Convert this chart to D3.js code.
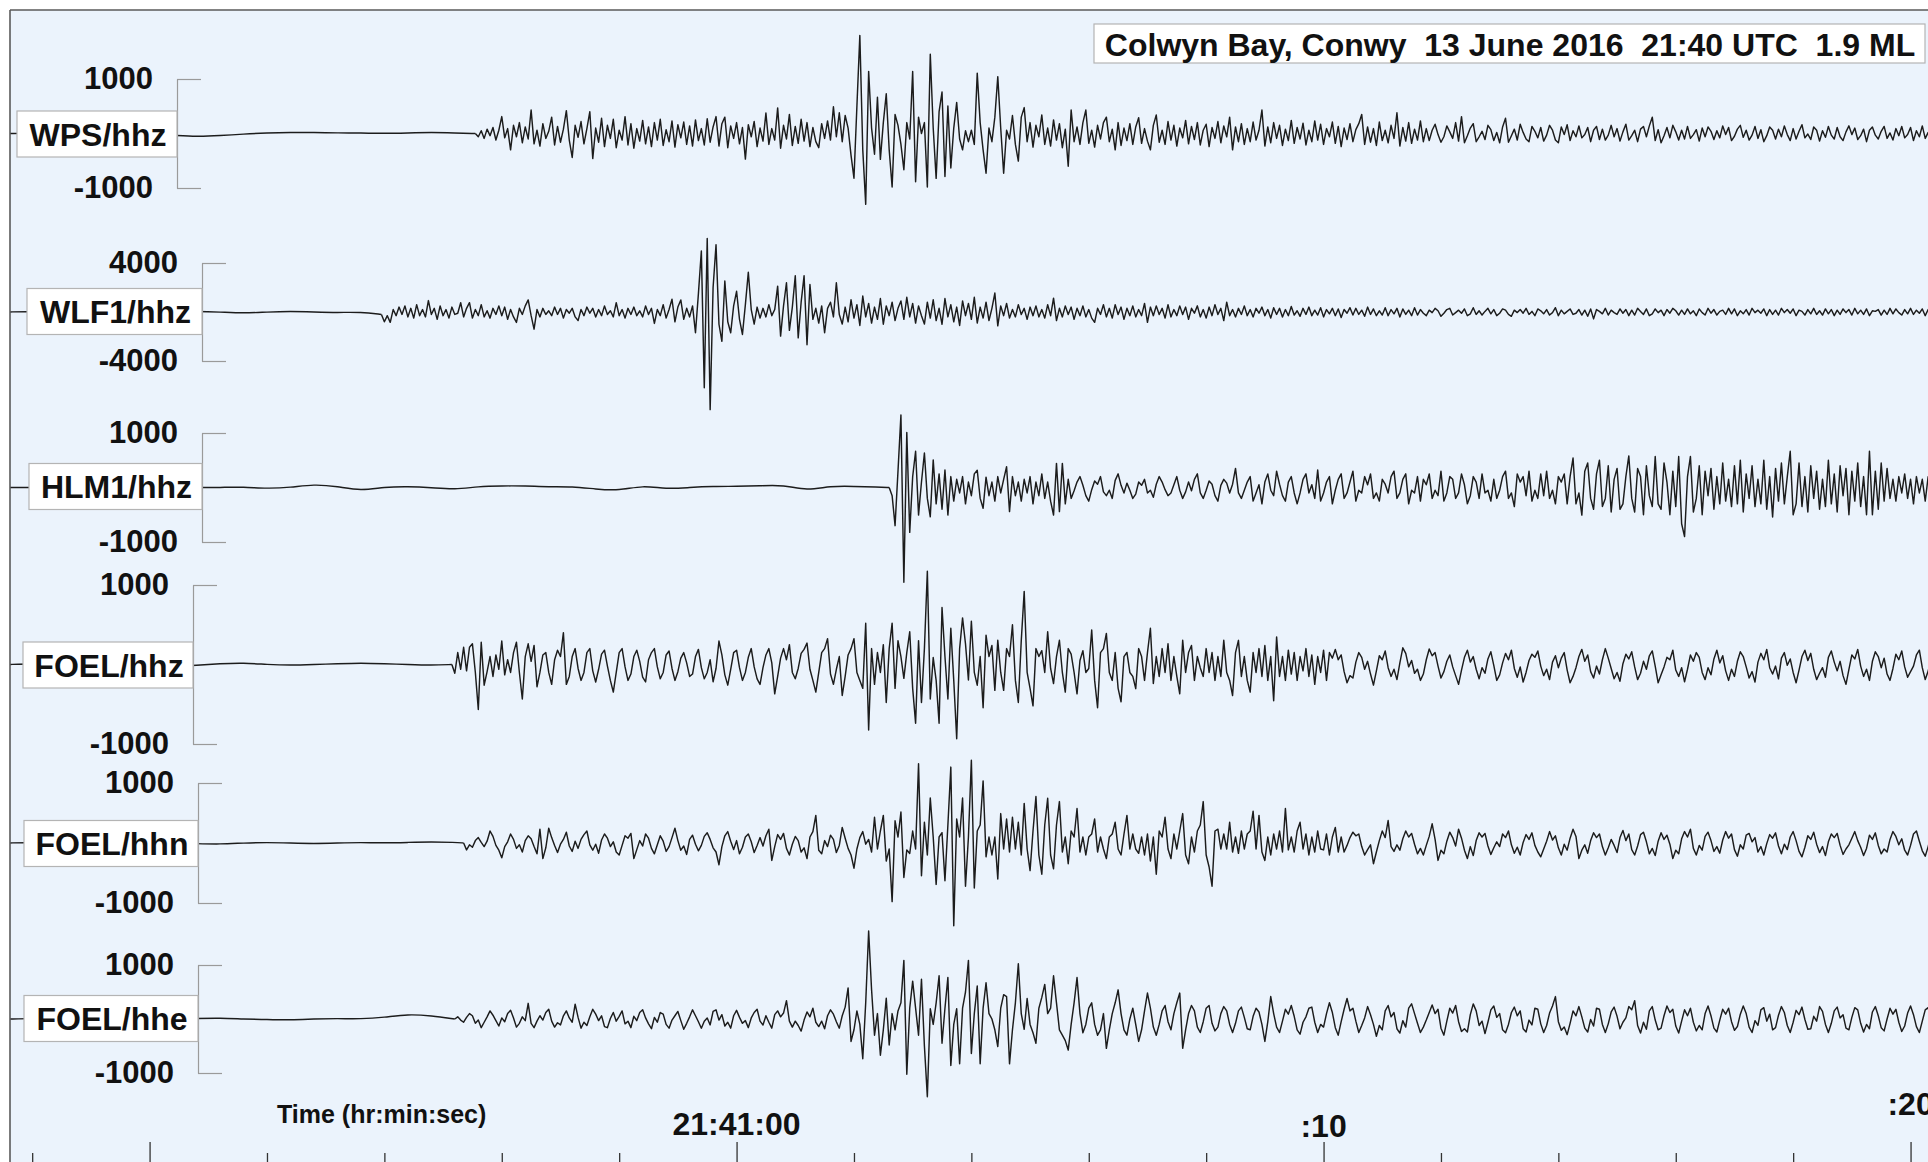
<!DOCTYPE html>
<html>
<head>
<meta charset="utf-8">
<script src="https://cdn.jsdelivr.net/npm/d3@7"></script>
<style>
  html, body { margin: 0; padding: 0; background: #ffffff; overflow: hidden; }
  svg { display: block; font-family: "Liberation Sans", Arial, Helvetica, sans-serif; font-weight: bold; }
</style>
</head>
<body>
<svg id="chart" width="1928" height="1162"></svg>
<script>
// ---------------------------------------------------------------------------
// Seismograms, Colwyn Bay event. Times are seconds after 21:41:00 UTC,
// amplitudes are counts.
// ---------------------------------------------------------------------------
const title = "Colwyn Bay, Conwy  13 June 2016  21:40 UTC  1.9 ML";
const timeAxisTitle = "Time (hr:min:sec)";
const stations = ["WPS/hhz", "WLF1/hhz", "HLM1/hhz", "FOEL/hhz", "FOEL/hhn", "FOEL/hhe"];
const amplitudeTicks = [1000, 4000, 1000, 1000, 1000, 1000];
// where the coarse background record ends and the fine record begins
const onsets = [-4.45, -6.05, 2.60, -4.85, -4.65, -4.80];
const timeTickLabels = [
  { sec: 0, text: "21:41:00" },
  { sec: 10, text: ":10" },
  { sec: 20, text: ":20" }
];
const PRE_START = -12.4;   // first background sample
const PRE_STEP = 0.4;      // background sample spacing (s)
const WAVE_STEP = 0.05;    // record sample spacing (s)
const VIEW_START = -12.4, VIEW_END = 20.35;

// WPS/hhz
const wpsPre = [0,5,-5,0,10,0,-10,-30,-60,-40,-10,10,20,20,10,10,0,10,20,10];
const wpsWave = [
0,-60,50,-90,80,-40,110,-120,60,310,-80,90,-300,150,-60,200,-170,120,-100,430,
-190,60,-230,180,-90,40,300,-210,130,-160,80,420,-120,-440,150,-70,220,-190,90,400,
-460,100,-160,280,-240,150,-90,260,-260,60,-120,310,-210,180,-270,90,-140,240,-190,120,
-240,200,-120,260,-220,70,-150,230,-250,160,-80,210,-200,140,-230,250,-130,90,-210,270,
-160,120,310,-230,180,300,-260,140,-90,200,-190,110,-470,160,-60,220,-240,100,-140,375,
-200,90,-120,470,-270,150,-100,350,-220,130,-180,260,-140,200,-240,110,-150,-260,180,-90,
230,-120,490,-60,380,-150,330,
100,-400,-820,500,1800,-300,-1300,1140,100,-380,665,-475,200,728,-300,-981,348,150,-200,
-665,200,-100,1139,-886,300,0,200,-981,1456,100,-823,400,760,-790,506,-633,100,570,-100,
-300,50,-150,60,-200,1108,200,-300,-728,100,-150,300,1044,100,-728,60,-100,330,-200,-506,300,475,
-150,200,-250,150,-60,340,-200,100,-230,250,-120,180,-260,80,-600,430,-150,120,-200,200,430,-180,60,
-250,150,-100,200,300,-150,80,-300,200,-220,100,-130,180,-200,120,290,-180,90,-140,-300,
150,340,-160,60,-200,220,-120,150,-230,100,-80,240,-190,130,-110,200,-210,60,170,-240,
110,-90,220,-170,140,-60,300,-300,120,-150,
180,-200,90,-150,210,-120,60,430,-230,120,-170,200,-90,150,-220,80,-130,240,-180,110,
-100,190,-210,60,-150,230,-120,170,-200,90,-60,210,-180,130,-240,100,-110,180,-150,70,
180,350,-200,120,-160,90,-220,210,-130,60,-170,150,-90,380,-230,110,-140,200,-180,80,-120,230,-150,
90,-130,60,170,-20,-160,-60,140,30,-90,200,-140,310,-170,-40,100,180,-150,-60,40,
-110,150,70,-130,20,-170,120,280,-160,-40,80,-120,170,20,-100,-150,130,40,-80,110,
-140,-30,150,60,-120,-170,120,-20,160,-130,50,-60,140,-80,-20,110,-150,60,130,-110,
80,-120,-30,150,-60,90,-140,30,170,-120,-40,60,-150,80,130,-60,140,300,-130,70,
-170,-40,110,-80,150,30,-120,60,-100,130,-90,-20,70,-140,100,-60,120,40,-110,50,
-80,140,-20,110,-130,-50,80,150,-70,60,-120,-30,130,-90,70,-150,-40,120,60,-100,
80,-60,140,-20,-130,90,-100,40,160,-80,-10,-110,120,60,-140,50,-70,130,-30,-100,
110,-60,-130,30,140,-20,100,-110,-40,80,-150,60,120,-30,-100,40,130,-90,10,-120,
90,-40,130,-80,-20,110,-130,50,-60,140,-90,20,-110
];

// WLF1/hhz
const wlfPre = [0,50,-50,0,100,0,-50,0,50,0,-100,0,50,0,-50,0];
const wlfWave = [
-200,-800,-300,-845,200,-300,400,-200,500,-400,300,-500,600,-300,200,-400,930,-200,300,-600,
500,-300,200,-500,400,-200,-100,760,-400,300,760,-500,200,-300,600,-400,100,-500,300,-200,
500,-300,400,-600,200,-400,-850,300,-200,500,985,-300,-1400,200,-400,300,-200,100,-300,400,
-200,300,-500,200,-100,300,-400,-700,200,-300,400,-100,300,-400,200,-300,500,-200,100,-400,
760,-300,200,-500,300,-200,400,-300,100,-400,500,-200,300,-930,200,-300,600,-500,200,1040,
-800,400,985,-600,300,-400,500,
-1690,1500,4980,-6190,5995,-7970,2000,5490,-1000,-2390,2530,-800,-1690,500,1690,-600,-1830,600,3240,200,-985,400,-500,300,
-400,600,-300,200,2110,-1970,500,2390,-1500,400,2955,-2110,800,2955,-2670,2250,-600,300,-900,500,-1690,300,800,-400,2390,-200,-985,400,
-800,1000,-500,600,-1100,1300,-400,700,-900,400,-600,1100,-1000,500,-300,800,-700,300,
900,-600,1200,-400,700,-900,500,-300,-985,800,-500,1000,-700,300,-1000,1100,-400,600,-800,400,
-1100,900,-300,700,-600,1200,-900,400,-500,800,-700,300,1550,-1130,
500,-300,700,-500,200,-400,600,-200,300,-600,400,-300,500,-400,200,-500,600,-300,1130,-700,
300,-400,500,-200,400,-600,300,-300,500,-400,200,-500,-845,300,-200,600,-400,
300,-500,600,-200,400,-600,300,-300,500,-400,200,-300,700,-845,400,-300,500,-200,300,-500,
600,-400,200,-300,500,-200,400,-600,300,-100,500,-400,200,-500,400,-300,600,-200,300,-700,
800,-300,200,
-400,300,-200,500,-300,200,-400,300,-100,400,-300,200,-500,350,-200,300,-400,200,-300,450,
-250,100,-350,300,-200,400,-300,150,-250,350,-400,200,-150,300,-300,250,-450,200,-100,350,
-250,300,-200,150,-350,400,-200,250,-300,100,-250,350,-300,200,-150,300,-400,250,-200,150,
-300,350,
-250,200,-100,-300,150,-50,300,100,-350,-100,200,300,-250,-50,150,-100,250,-300,-150,350,
-200,100,-250,50,300,-150,200,-300,-100,250,150,-200,-350,150,-50,200,-100,300,-200,50,
-300,250,100,-150,200,-250,-50,350,-300,150,-150,50,250,-200,-100,200,-250,150,-350,250,
-563,200,50,-150,300,-250,150,-50,-200,250,-100,200,-300,150,-250,300,50,-200,250,-300,
-150,250,-50,150,-300,200,-100,300,100,-250,150,-200,250,-150,100,-300,250,-50,-250,300,
-100,200,-250,50,150,-200,300,-150,250,-300,100,-150,200,-250,300,-50,150,-100,250,-300,
200,-200,150,-250,300,-50,200,-100,250,-300,150,50,-250,200,-150,300,-200,100,-250,250,
-150,200,-300,150,-200,250,-50,200,-250,300,-150,150,-200,250,-300,100,50,200,-250,150,
-200,300,-150,250,-50,-250,200,-150,300,-200,150,-100,250,-300,200,-150,100
];

// HLM1/hhz
const hlmPre = [0,0,10,0,0,10,0,10,0,0,10,-20,0,60,20,-60,10,20,0,-40,
20,30,30,10,20,-30,-60,40,-30,0,20,20,30,50,-60,30,20,10];
const hlmWave = [
0,-150,
-700,300,1330,-1740,1010,-823,200,665,-506,100,633,-200,-538,506,-300,250,-400,320,-506,200,
-250,150,-100,200,-300,100,-150,250,316,-200,-380,190,-150,100,-250,200,-100,150,380,-443,
200,-150,100,-250,150,-100,200,-300,100,-150,250,-200,100,-250,-506,443,-443,443,-300,150,
-200,-60,100,200,40,-150,-250,-40,120,60,200,-80,-150,-50,-200,130,250,40,-100,80,
-50,-200,-120,100,40,150,-100,-50,-180,60,200,100,-40,-150,-100,50,200,-50,-200,-80,
100,-60,150,250,-100,-200,-50,120,60,-150,-250,40,150,80,-100,60,350,-100,-200,-50,
100,200,-250,-100,50,-300,100,250,-50,-150,300,60,-150,-250,100,200,-100,-300,-100,150,
250,-100,50,-200,320,-250,-100,100,200,-300,-50,150,250,-200,-100,100,300,-250,-50,-100,
200,50,250,-200,-100,-250,150,60,-100,200,300,-200,-100,150,250,-300,-50,-100,200,-250,
150,50,250,-200,-50,-150,300,-250,-100,200,150,-200,-100,250,50,-300,-150,200,100,-200,
250,-100,-50,-250,150,-200,-50,200,300,-200,-100,-350,250,100,200,-150,300,-250,-50,-200,
250,-150,300,-200,-50,-300,200,100,250,-300,
200,540,-300,-100,-506,300,450,-200,-400,250,500,-350,-200,400,-450,150,350,-400,-300,200,
580,-200,-450,350,200,-500,400,-150,-350,570,-300,-400,450,100,-500,300,-350,570,-665,-900,
200,570,-450,-200,400,-500,300,-150,350,-400,200,-300,450,-250,150,-350,400,-300,500,-450,
250,-200,400,-350,150,-300,500,-400,200,-540,350,-250,450,-300,200,665,-500,-300,450,-350,
200,-450,400,-200,300,-400,150,-350,500,-300,250,-450,400,-150,350,-500,300,-250,450,-350,
200,-500,665,-500,300,-400,450,-250,350,
-200,150,-250,200,-100,250,-200,150,-300,200,-100,150,-250,200,-150
];

// FOEL/hhz
const hhzPre = [0,10,0,-10,20,10,0,-20,-10,10,20,0,-10,0,10,20,10,0,-10];
const hhzWave = [
0,-110,150,-60,217,-80,217,260,-100,-565,280,-260,-90,100,-150,120,-60,295,-130,60,
-100,150,280,-100,-434,100,260,40,240,-280,-100,120,150,-100,-250,60,180,100,400,-250,
-150,100,200,-50,-200,-100,150,200,-80,-220,-60,130,180,-20,-200,-347,-100,150,200,-30,
-200,-120,100,180,40,-160,-220,60,150,200,-30,-180,-100,120,170,-50,-200,-90,80,150,
20,-150,-120,100,190,-40,-180,-100,60,-217,-50,295,120,-130,-260,-60,150,180,-40,-200,
-100,90,200,-30,-180,-250,-40,120,200,20,-369,-150,80,200,60,250,-100,-180,-50,140,
190,270,-60,-200,-347,-100,150,200,325,-120,-250,-60,100,-390,-150,120,200,325,-100,-200,
-300,520,-825,200,-250,150,-100,250,-477,200,520,-300,300,100,-174,150,412,-300,-738,300,
-477,200,1172,-434,87,-200,-738,716,100,-434,456,-200,-933,200,586,260,-195,543,-100,-260,
100,-543,369,100,239,-325,304,-100,-325,200,100,500,-200,-477,300,920,-100,-300,-520,200,
100,174,-100,412,-50,-239,100,304,-100,-347,200,130,-100,-369,50,174,-100,-50,434,-200,
-543,150,200,390,-100,-200,150,-300,-469,100,152,-100,-150,-304,200,100,-200,150,456,-239,
100,-150,200,-100,260,-200,100,-150,-369,304,-100,150,239,-200,100,-43,-150,200,-100,150,
-200,100,-150,304,-100,-200,-390,150,304,-150,100,-200,-347,150,-100,200,-150,239,-200,100,
-456,347,-150,100,-200,180,-120,150,-200,100,-80,200,-150,120,-250,100,-100,180,-200,150,
80,190,60,120,-90,-230,-140,-170,30,150,90,-60,40,-120,-260,-80,110,60,170,-40,
-150,-60,-190,20,210,140,-30,50,-110,-60,-200,-120,60,195,110,150,-20,-170,-90,40,
120,-30,-140,-250,-70,90,180,30,100,-60,-180,-40,-110,70,160,-10,-200,-130,20,140,
60,180,-50,-160,-30,-220,-100,50,130,90,170,-20,-140,-60,-190,30,110,-40,80,150,
-70,-230,-150,-40,100,190,40,120,-90,-170,-20,-120,60,200,80,-50,-180,-100,-210,10,
130,70,160,-30,-190,-110,40,-60,110,170,-20,-230,-130,-30,90,60,180,-70,-150,-40,
-217,-60,120,40,150,90,-100,-190,-40,-130,70,180,20,110,-80,-200,-60,-150,40,160,
100,-30,-170,-90,-220,30,140,60,190,-40,-120,-20,-180,80,150,-10,70,-100,-230,-70,
100,180,50,140,-60,-190,-110,-40,-160,90,170,30,-80,40,-140,-250,-60,120,70,190,
-20,-150,-60,-200,40,160,100,-40,80,-120,-200,-50,130,60,170,-30,-160,-90,-20,120,
180,-40,-190,-80,60
];

// FOEL/hhn
const hhnPre = [0,10,-10,0,10,20,10,0,-10,-20,0,10,0,-10,0,10,0,10,20,10];
const hhnWave = [
0,-115,-30,-70,40,90,10,-60,30,200,110,-40,-120,-247,-60,20,150,60,-90,-30,
-150,40,120,70,-60,-180,230,-260,-80,247,90,-40,-160,-20,60,180,-50,-140,30,-90,
60,140,200,-30,-120,-20,-170,50,150,80,-60,20,-150,-200,-40,120,80,160,-260,-110,
40,-50,150,80,-90,-180,-30,120,30,-140,-60,90,247,40,-120,-50,-190,60,130,-20,
-130,-40,110,170,60,-80,-150,-362,-60,120,190,30,-110,40,-180,-70,100,150,20,-160,
-40,90,-50,120,230,-290,-60,140,60,160,-90,-200,-20,110,40,-150,-80,-260,100,190,
460,-120,-180,40,-60,130,60,-160,-40,260,80,-90,-200,-420,-100,90,190,-20,60,-150,
430,-100,200,460,-300,-100,-977,370,100,517,-575,-115,-175,200,-100,1320,-546,345,-200,750,
100,-690,100,172,-630,300,1265,-1380,400,100,750,-720,100,1380,-750,200,300,1035,-230,100,
-200,100,-600,490,-100,400,-150,430,-100,345,-200,660,-100,-460,200,775,-200,-520,300,745,
-200,-430,300,690,-150,100,-345,200,100,575,-150,100,-200,100,150,400,-150,100,-100,-260,
100,150,345,-100,-200,150,460,-100,150,-100,-172,100,-200,150,-300,100,-520,200,100,430,
-100,-260,150,-100,200,490,-200,-345,100,-150,200,300,690,-200,-400,-720,200,230,-100,150,
-100,345,-150,100,-172,200,-100,150,200,530,-100,460,-150,-290,100,-200,150,-100,200,-150,
575,-115,100,-150,200,345,-100,150,-200,100,-150,200,-100,-115,150,-200,100,260,-150,100,
-150,-40,90,180,120,150,-60,-200,-110,-30,-345,-150,40,200,90,375,-60,-140,-30,-120,
70,200,100,160,-20,-180,-90,-200,-40,110,320,60,-290,-120,-180,30,180,90,-50,230,
80,-120,-260,-60,-210,40,170,100,160,-50,-190,-80,20,-60,150,90,200,-30,-170,-70,
-200,10,140,60,170,-40,-150,-230,-100,30,190,50,120,-80,-200,-20,-120,80,230,110,
-260,-120,-30,-170,40,170,90,150,-60,-200,-80,60,-40,-160,90,210,40,150,-110,-200,
-50,140,180,20,-180,-90,-210,30,170,60,130,-20,-260,-120,-180,70,190,100,230,-90,
-200,-40,-120,110,180,40,-140,-60,-170,50,190,80,150,-110,-220,-30,-100,130,160,20,
90,-150,-60,-200,-10,140,80,170,-50,-180,-20,-110,100,190,40,-140,-230,-70,120,60,
180,-20,-160,-60,-210,20,150,90,160,-40,-190,-100,-30,80,190,40,-70,-210,-90,130,
60,170,-40,-180,-100,-150,60,190,110,-30,70,-120,-200,-40,150,200,30,-130,-220,-60,
140
];

// FOEL/hhe
const hhePre = [0,10,0,-20,-10,10,0,-10,10,20,0,-10,-20,0,10,0,30,90,60];
const hheWave = [
0,40,-20,-60,30,100,60,-80,-20,-160,-60,40,150,70,-30,-130,20,-50,100,160,
20,-150,-80,40,-30,290,-80,-160,-40,60,-20,120,180,-40,-150,-70,-110,60,150,20,
-60,275,30,-170,-60,-120,40,180,90,-30,60,-140,-160,10,120,-40,50,150,-90,-40,
-160,50,-30,120,170,20,-90,-180,30,-60,120,90,-100,-170,-20,60,140,-30,-190,-80,
40,170,60,-50,-170,-40,20,-110,140,170,-20,80,-130,-60,-170,60,160,30,-80,-30,
-160,20,120,180,-40,-110,60,-60,-170,80,150,40,110,340,-40,-150,-40,-120,-224,-20,
130,40,200,-60,-140,-40,-180,60,170,90,-50,-170,60,220,575,-415,-200,150,-100,-735,
300,1630,543,-300,100,-670,-200,383,-480,100,-200,150,300,1086,-1022,200,700,200,-300,735,
-500,-1438,190,-100,300,800,-450,200,770,-862,-100,190,-830,200,500,1086,-640,100,610,-830,
200,670,100,0,-200,-510,200,450,415,-830,-200,300,1022,100,-190,380,-100,-255,-450,200,
400,640,100,200,800,300,-200,-300,-400,-575,-100,300,767,100,-255,-100,200,300,-100,-300,
-200,100,-543,-200,100,300,540,100,-200,-300,0,200,-100,-415,-200,150,480,200,-150,-300,
-100,150,250,-50,-200,100,300,480,-543,-200,100,250,150,-150,-250,-50,200,250,-80,-220,
-150,100,230,150,-100,-250,-80,150,220,30,-180,-200,50,200,130,-100,-415,-50,415,100,
-150,-250,-40,180,90,250,50,-200,-280,-60,40,200,220,-60,-250,-100,-150,100,300,120,
-160,-300,-50,180,380,150,200,-40,-250,-120,20,230,80,-100,-320,-120,-200,150,250,40,
120,-180,-260,-30,-150,200,280,100,-80,-250,-150,-20,120,260,100,180,-170,-300,-40,200,
110,250,-50,-230,-180,-240,80,280,150,-120,-40,-270,-60,170,240,30,100,-200,-255,-100,
120,220,60,150,-180,-240,-20,-110,200,180,-90,-250,-120,110,240,415,-50,-210,-150,-290,
-80,150,60,230,40,-170,-240,-10,-130,200,180,-100,-250,-90,130,220,50,-180,-60,20,
230,170,340,-120,-260,-60,-190,150,230,-20,-200,-170,60,240,120,180,-130,-260,-40,170,
60,200,-60,-220,-120,-200,100,240,60,-170,-240,-20,180,90,200,-50,-210,-140,90,240,
100,-150,-250,-30,-120,170,210,-40,90,-200,-160,70,230,120,-120,-250,-60,160,80,220,
-10,-190,-180,50,-40,230,140,-100,-250,-80,150,220,20,80,-170,-200,30,210,170,-80,
-240,-100,-180,130,230,60,-160,-220,0,200,90,180,-60,-230,-130,110,240,80,-140,-250,
-40,170,210,-30
];

const records = [
  [wpsPre, wpsWave], [wlfPre, wlfWave], [hlmPre, hlmWave],
  [hhzPre, hhzWave], [hhnPre, hhnWave], [hhePre, hheWave]
];

// ---------------------------------------------------------------------------
// Layout (pixels)
// ---------------------------------------------------------------------------
const W = 1928, H = 1162;
const frame = { left: 10, top: 10 };
const xPixels = [8.7, 1931.1];          // VIEW_START .. VIEW_END
const panels = [
  { top: 79,  bottom: 188,  axisX: 177, boxLeft: 17, boxMid: 134 },
  { top: 263, bottom: 361,  axisX: 202, boxLeft: 27, boxMid: 311.5 },
  { top: 433, bottom: 542,  axisX: 202, boxLeft: 29, boxMid: 486.5 },
  { top: 585, bottom: 744,  axisX: 193, boxLeft: 23, boxMid: 665 },
  { top: 783, bottom: 903,  axisX: 198, boxLeft: 24, boxMid: 843.5 },
  { top: 965, bottom: 1073, axisX: 198, boxLeft: 24, boxMid: 1018.5 }
];
const boxHeight = 46;
const timeAxisY = 1142;
const timeLabelBaselines = [1135, 1137, 1115];
const colors = {
  plotBg: "#ebf3fc", frame: "#5a5a5a", trace: "#1c1c1c",
  axis: "#9a9a9a", box: "#b4b4b4", text: "#111111", tick: "#333333"
};

// ---------------------------------------------------------------------------
const svg = d3.select("#chart");
const base = Date.UTC(2016, 5, 13, 21, 41, 0);
const at = s => new Date(base + Math.round(s * 1000));

const x = d3.scaleUtc().domain([at(VIEW_START), at(VIEW_END)]).range(xPixels);

// plot area
svg.append("rect").attr("x", 0).attr("y", 0).attr("width", W).attr("height", H).attr("fill", "#ffffff");
svg.append("rect")
  .attr("x", frame.left).attr("y", frame.top)
  .attr("width", W + 20 - frame.left).attr("height", H + 20 - frame.top)
  .attr("fill", colors.plotBg);

svg.append("clipPath").attr("id", "plotClip")
  .append("rect").attr("x", frame.left).attr("y", frame.top)
  .attr("width", W - frame.left).attr("height", H - frame.top);

// background part (smooth drift before the arrivals) and the record itself
function backgroundPoints(pre, onset, firstValue) {
  const pts = [];
  pre.forEach((v, k) => {
    const s = PRE_START + k * PRE_STEP;
    if (s < onset - 1e-6) pts.push([s, v]);
  });
  pts.push([onset, firstValue]);
  return pts;
}
function recordPoints(wave, onset) {
  return wave.map((v, i) => [onset + i * WAVE_STEP, v]);
}

const traceLayer = svg.append("g").attr("clip-path", "url(#plotClip)");
const axisLayer = svg.append("g");
const labelLayer = svg.append("g");

stations.forEach((name, idx) => {
  const P = panels[idx];
  const amp = amplitudeTicks[idx];
  const y = d3.scaleLinear().domain([-amp, amp]).range([P.bottom, P.top]);
  const [pre, wave] = records[idx];

  const smooth = d3.line().curve(d3.curveBasis)
    .x(d => x(at(d[0]))).y(d => y(d[1]));
  const sharp = d3.line()
    .x(d => x(at(d[0]))).y(d => y(d[1]));

  traceLayer.append("path")
    .datum(backgroundPoints(pre, onsets[idx], wave[0]))
    .attr("d", smooth)
    .attr("fill", "none").attr("stroke", colors.trace).attr("stroke-width", 1.45);

  traceLayer.append("path")
    .datum(recordPoints(wave, onsets[idx]))
    .attr("d", sharp)
    .attr("fill", "none").attr("stroke", colors.trace).attr("stroke-width", 1.45)
    .attr("stroke-linejoin", "round");

  // amplitude bracket: vertical line with ticks to the right
  const bracket = axisLayer.append("g")
    .attr("transform", `translate(${P.axisX},0)`)
    .call(d3.axisRight(y).tickValues([-amp, amp]).tickSize(24).tickSizeOuter(0).tickFormat(""));
  bracket.selectAll("path, line").attr("stroke", colors.axis).attr("stroke-width", 1.2);

  // amplitude labels to the left
  const labels = axisLayer.append("g")
    .attr("transform", `translate(${P.axisX},0)`)
    .call(d3.axisLeft(y).tickValues([-amp, amp]).tickSize(0).tickPadding(24).tickFormat(d => String(d)));
  labels.select(".domain").remove();
  labels.selectAll("text")
    .attr("font-size", 31).attr("font-weight", "bold")
    .attr("font-family", "Liberation Sans, Arial, sans-serif")
    .attr("fill", colors.text);

  // station name box
  labelLayer.append("rect")
    .attr("x", P.boxLeft).attr("y", P.boxMid - boxHeight / 2)
    .attr("width", P.axisX - P.boxLeft).attr("height", boxHeight)
    .attr("fill", "#ffffff").attr("stroke", colors.box).attr("stroke-width", 1.2);
  labelLayer.append("text")
    .attr("x", (P.boxLeft + P.axisX) / 2 + 1).attr("y", P.boxMid + 11.5)
    .attr("text-anchor", "middle").attr("font-size", 32).attr("fill", colors.text)
    .text(name);
});

// time axis
const xAxis = d3.axisBottom(x).ticks(d3.utcSecond.every(2)).tickSize(40).tickFormat("");
const gx = svg.append("g").attr("transform", `translate(0,${timeAxisY})`).call(xAxis);
gx.select(".domain").remove();
gx.selectAll(".tick line")
  .attr("y1", d => (d.getUTCSeconds() % 10 === 0 ? 0 : 11))
  .attr("stroke", colors.tick).attr("stroke-width", 1.3);

timeTickLabels.forEach((t, k) => {
  svg.append("text")
    .attr("x", x(at(t.sec))).attr("y", timeLabelBaselines[k])
    .attr("text-anchor", "middle").attr("font-size", 32).attr("fill", colors.text)
    .text(t.text);
});

svg.append("text")
  .attr("x", 277).attr("y", 1123)
  .attr("font-size", 25).attr("fill", colors.text)
  .text(timeAxisTitle);

// event title
svg.append("rect")
  .attr("x", 1094).attr("y", 24).attr("width", 831).attr("height", 39)
  .attr("fill", "#ffffff").attr("stroke", colors.box).attr("stroke-width", 1.2);
svg.append("text")
  .attr("x", 1510).attr("y", 55.5)
  .attr("text-anchor", "middle").attr("font-size", 32).attr("fill", colors.text)
  .attr("xml:space", "preserve").style("white-space", "pre")
  .text(title);

// frame edges
svg.append("line").attr("x1", frame.left).attr("y1", frame.top).attr("x2", W).attr("y2", frame.top)
  .attr("stroke", colors.frame).attr("stroke-width", 1.6);
svg.append("line").attr("x1", frame.left).attr("y1", frame.top).attr("x2", frame.left).attr("y2", H)
  .attr("stroke", colors.frame).attr("stroke-width", 1.6);
</script>
</body>
</html>
